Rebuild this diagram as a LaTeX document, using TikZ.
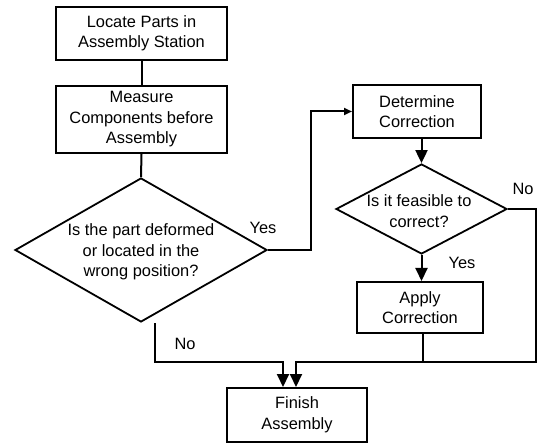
\documentclass[tikz,border=0pt]{standalone}
\usepackage{fontspec}
\setmainfont{Liberation Sans}
\usetikzlibrary{shapes.geometric,arrows.meta}
\begin{document}
\begin{tikzpicture}[x=1pt,y=-1pt,
  every node/.style={font=\fontsize{16.4pt}{20.5pt}\selectfont},
  box/.style={draw,line width=2pt,align=center,inner sep=0pt},
  dec/.style={draw,diamond,line width=1.8pt,inner sep=0pt},
  lbl/.style={align=center,inner sep=0pt},
  conn/.style={line width=2pt},
  arr/.style={line width=2pt,-{Triangle[length=13pt,width=12pt]}},
  sarr/.style={line width=2pt,-{Triangle[length=8pt,width=7pt]}}]
\useasboundingbox (0,0) rectangle (548,443);
\node[box,minimum width=171pt,minimum height=53pt] (b1) at (141.5,33.5) {Locate Parts in\\Assembly Station};
\node[box,minimum width=171pt,minimum height=67pt] (b2) at (141.5,119.5) {Measure\\Components before\\Assembly};
\node[dec,minimum width=252pt,minimum height=144pt] (d1) at (141,250) {};
\node[lbl] (t1) at (141,252) {Is the part deformed\\or located in the\\wrong position?};
\node[box,minimum width=128pt,minimum height=53pt] (b3) at (417,111.5) {Determine\\Correction};
\node[dec,minimum width=171pt,minimum height=90pt] (d2) at (421.5,209) {};
\node[lbl] (t2) at (419,211) {Is it feasible to\\correct?};
\node[box,minimum width=126pt,minimum height=51pt] (b4) at (420,307.5) {Apply\\Correction};
\node[box,minimum width=140pt,minimum height=54pt] (b5) at (297,415) {Finish\\Assembly};
\node[lbl] (y1) at (263,228) {Yes};
\node[lbl] (y2) at (462,263) {Yes};
\node[lbl] (n1) at (185,344) {No};
\node[lbl] (n2) at (523,189) {No};
\coordinate (c1) at (311,250);
\coordinate (c2) at (536,209);
\coordinate (c3) at (155,323);
\coordinate (j) at (423,362);
\draw[conn] (b1.south) -- (b2.north);
\draw[conn] (b2.south) -- (d1.north);
\draw[sarr] (d1.east) -- (c1) |- (b3.west);
\draw[arr] (b3.south -| d2.north) -- (d2.north);
\draw[arr] (d2.south) -- (d2.south |- b4.north);
\draw[arr] (d2.east) -- (c2) |- (296,362) -- (b5.north -| 296,0);
\draw[arr] (c3) |- (283,362) -- (b5.north -| 283,0);
\draw[conn] (b4.south -| j) -- (j);
\end{tikzpicture}
\end{document}
